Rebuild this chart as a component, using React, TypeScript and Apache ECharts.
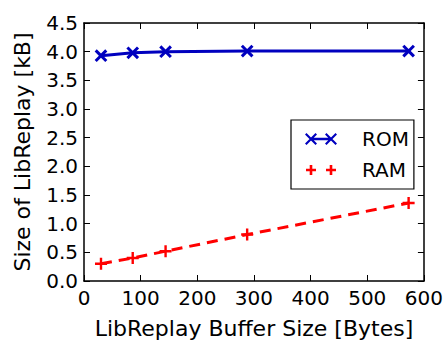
import React, { useEffect, useRef } from "react";
import * as echarts from "echarts";

const bufferSizes = [30, 86, 144, 288, 573];
const romValues = [3.93, 3.98, 4.0, 4.01, 4.01];
const ramValues = [0.3, 0.4, 0.52, 0.81, 1.36];
const seriesNames = ["ROM", "RAM"];

const plusPath = "path://M4,0H6V4H10V6H6V10H4V6H0V4H4Z";
const xIcon =
  "path://M0,1.5L1.5,0L12,10.5L10.5,12Z M10.5,0L12,1.5L1.5,12L0,10.5Z M20,1.5L21.5,0L32,10.5L30.5,12Z M30.5,0L32,1.5L21.5,12L20,10.5Z M6,4.7H26V7.3H6Z";
const plusIcon =
  "path://M1,4.7H11V7.3H1Z M4.7,1H7.3V11H4.7Z M21,4.7H31V7.3H21Z M24.7,1H27.3V11H24.7Z M0,0H0.01V0.01H0Z M31.99,11.99H32V12H31.99Z";

export default function App() {
  const ref = useRef<HTMLDivElement>(null);
  useEffect(() => {
    document.body.style.margin = "0";
    if (!ref.current) return;
    const chart = echarts.init(ref.current, undefined, { renderer: "svg" });
    const font = "DejaVu Sans";
    const axisCommon = {
      axisLine: { show: true, onZero: false, lineStyle: { color: "#000", width: 1.5 } },
      axisTick: { show: true, inside: true, length: 6, lineStyle: { color: "#000", width: 1 } },
      splitLine: { show: false },
    };
    chart.setOption({
      animation: false,
      backgroundColor: "#fff",
      textStyle: { fontFamily: font },
      grid: { left: 84, right: 20, top: 23, bottom: 57 },
      legend: {
        orient: "vertical",
        left: 291,
        top: 120,
        itemWidth: 32,
        itemHeight: 12,
        itemGap: 11,
        padding: [9, 5, 9, 14],
        borderColor: "#000",
        borderWidth: 1.2,
        backgroundColor: "#fff",
        textStyle: {
          fontFamily: font,
          fontSize: 20,
          lineHeight: 20,
          color: "#000",
          padding: [0, 0, 0, 20],
        },
        data: [
          { name: seriesNames[0], icon: xIcon },
          { name: seriesNames[1], icon: plusIcon },
        ],
      },
      xAxis: [
        {
          type: "value",
          min: 0,
          max: 600,
          interval: 100,
          name: "LibReplay Buffer Size [Bytes]",
          nameLocation: "middle",
          nameGap: 36,
          nameTextStyle: { fontFamily: font, fontSize: 22, color: "#000" },
          axisLabel: { fontFamily: font, fontSize: 20, color: "#000", margin: 7 },
          ...axisCommon,
        },
        {
          type: "value",
          position: "top",
          min: 0,
          max: 600,
          interval: 100,
          axisLabel: { show: false },
          ...axisCommon,
        },
      ],
      yAxis: [
        {
          type: "value",
          min: 0,
          max: 4.5,
          interval: 0.5,
          name: "Size of LibReplay [kB]",
          nameLocation: "middle",
          nameGap: 51,
          nameTextStyle: { fontFamily: font, fontSize: 22, color: "#000" },
          axisLabel: {
            fontFamily: font,
            fontSize: 20,
            color: "#000",
            margin: 6,
            formatter: (v: number) => v.toFixed(1),
          },
          ...axisCommon,
        },
        {
          type: "value",
          position: "right",
          min: 0,
          max: 4.5,
          interval: 0.5,
          axisLabel: { show: false },
          ...axisCommon,
        },
      ],
      series: [
        {
          name: seriesNames[0],
          type: "line",
          data: bufferSizes.map((x, i) => [x, romValues[i]]),
          symbol: plusPath,
          symbolRotate: 45,
          symbolSize: 15,
          lineStyle: { color: "#0000bf", width: 3 },
          itemStyle: { color: "#0000bf" },
          z: 3,
        },
        {
          name: seriesNames[1],
          type: "line",
          data: bufferSizes.map((x, i) => [x, ramValues[i]]),
          symbol: plusPath,
          symbolSize: 12,
          lineStyle: { color: "#ff0000", width: 3, type: [11, 7] },
          itemStyle: { color: "#ff0000" },
          z: 3,
        },
      ],
    });
    return () => chart.dispose();
  }, []);
  return <div ref={ref} style={{ width: 446, height: 344 }} />;
}
